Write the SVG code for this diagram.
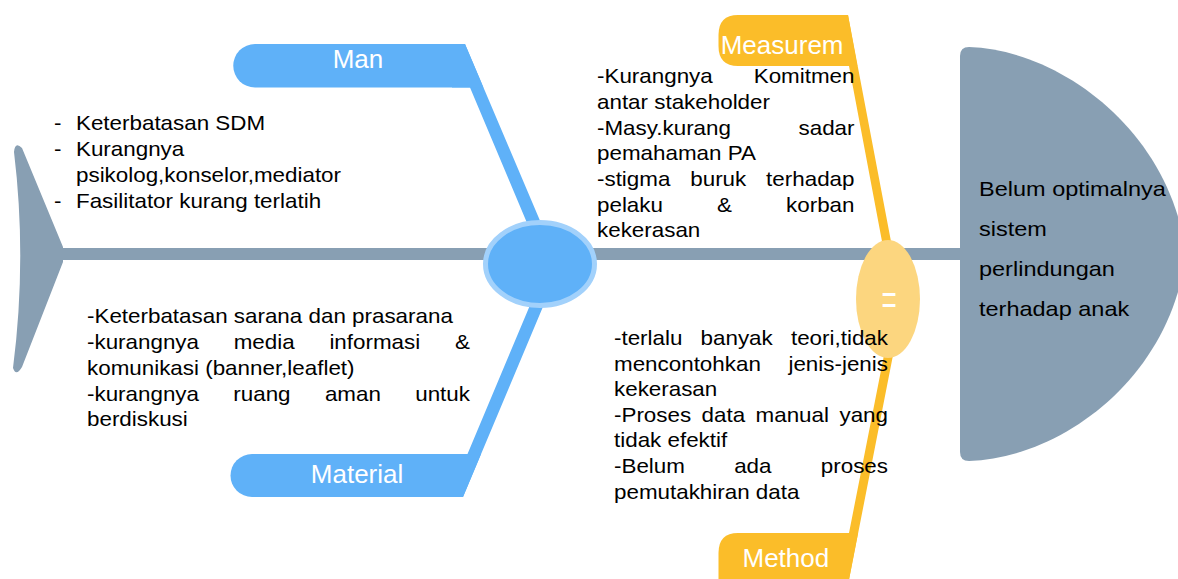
<svg xmlns="http://www.w3.org/2000/svg" width="1178" height="579" viewBox="0 0 1178 579">
<style>
.t{font-family:"Liberation Sans",Arial,sans-serif;font-size:20px;fill:#000}
.h{font-family:"Liberation Sans",Arial,sans-serif;font-size:21px;fill:#000}
.e{text-anchor:end}
.lbl{font-family:"Liberation Sans",Arial,sans-serif;font-size:26px;fill:#fff}
.gray{fill:#889FB3}
.blue{fill:#5FB1F8}
.orange{fill:#FBBD29}
</style>
<rect width="1178" height="579" fill="#fff"/>
<g id="connectors">
<rect class="gray" x="58" y="248" width="907" height="12"/>
<polygon class="blue" points="452,44 465,44 546.5,236 532.5,236 470,87.5 452,87.5"/>
<polygon class="blue" points="452,497 463,497 550,290 536.4,290 467.5,454 452,454"/>
<polygon class="orange" points="840,15 848,15 893,252 884,252 849,66 840,66"/>
<polygon class="orange" points="840,533 849,533 886,345 895,345 847,590 840,590"/>
</g>
<g id="tail">
<path class="gray" d="M14,152 Q15,141 22,148 L63,247 L63,262 L22,367 Q16,377 13,368 Q27,259 14,152 Z"/>
</g>
<g id="head">
<path class="gray" d="M960,56 Q960,47 969,47 C1060,50 1170,130 1186,254 C1170,380 1060,458 969,461 Q960,461 960,452 Z"/>
<g transform="scale(1.12,1)">
<text class="h" x="874.1" y="196">Belum optimalnya</text>
<text class="h" x="874.1" y="236">sistem</text>
<text class="h" x="874.1" y="276">perlindungan</text>
<text class="h" x="874.1" y="316">terhadap anak</text>
</g>
</g>
<g id="man">
<path class="blue" d="M255,44 H465 L483.4,87.5 H255 A21.75,21.75 0 0 1 255,44 Z"/>
<text class="lbl" x="332.7" y="68.3">Man</text>
</g>
<g id="material">
<path class="blue" d="M252,454 H481 L463,497 H252 A21.5,21.5 0 0 1 252,454 Z"/>
<text class="lbl" x="310.8" y="483">Material</text>
</g>
<g id="measurement">
<path class="orange" d="M738,15 H848 L857.3,66 H738 Q718.5,66 718.5,46 V35 Q718.5,15 738,15 Z"/>
<text class="lbl" x="720.7" y="53.5">Measurem</text>
</g>
<g id="method">
<path class="orange" d="M738,533 H858 L847,590 H718.5 V553 Q718.5,533 738,533 Z"/>
<text class="lbl" x="742.5" y="567">Method</text>
</g>
<g id="hub">
<ellipse cx="540" cy="264" rx="54.5" ry="41.5" fill="#5FB1F8" stroke="#A2D1FB" stroke-width="5"/>
</g>
<g id="joint">
<ellipse cx="888" cy="299" rx="32" ry="59" fill="#FCD67F"/>
<text class="lbl" x="889" y="196.3" text-anchor="middle" transform="scale(1,1.6)">=</text>
</g>
<g id="man-causes" transform="scale(1.12,1)">
<text class="t" x="48.2" y="130">-</text><text class="t" x="67.86" y="130">Keterbatasan SDM</text>
<text class="t" x="48.2" y="156">-</text><text class="t" x="67.86" y="156">Kurangnya</text>
<text class="t" x="67.86" y="182">psikolog,konselor,mediator</text>
<text class="t" x="48.2" y="208">-</text><text class="t" x="67.86" y="208">Fasilitator kurang terlatih</text>
</g>
<g id="measurement-causes" transform="scale(1.12,1)">
<text class="t" x="533.04" y="83.5">-Kurangnya</text><text class="t e" x="762.95" y="83.5">Komitmen</text>
<text class="t" x="533.04" y="109">antar stakeholder</text>
<text class="t" x="533.04" y="134.7">-Masy.kurang</text><text class="t e" x="762.95" y="134.7">sadar</text>
<text class="t" x="533.04" y="160.3">pemahaman PA</text>
<text class="t" x="533.04" y="186">-stigma</text><text class="t" x="616.3" y="186">buruk</text><text class="t e" x="762.95" y="186">terhadap</text>
<text class="t" x="533.04" y="211.7">pelaku</text><text class="t" x="640.2" y="211.7">&amp;</text><text class="t e" x="762.95" y="211.7">korban</text>
<text class="t" x="533.04" y="237.3">kekerasan</text>
</g>
<g id="material-causes" transform="scale(1.12,1)">
<text class="t" x="77.68" y="323.5">-Keterbatasan sarana dan prasarana</text>
<text class="t" x="77.68" y="349.2">-kurangnya</text><text class="t" x="208.66" y="349.2">media</text><text class="t" x="294.1" y="349.2">informasi</text><text class="t e" x="419.64" y="349.2">&amp;</text>
<text class="t" x="77.68" y="375">komunikasi (banner,leaflet)</text>
<text class="t" x="77.68" y="400.7">-kurangnya</text><text class="t" x="208.3" y="400.7">ruang</text><text class="t" x="290.1" y="400.7">aman</text><text class="t e" x="419.64" y="400.7">untuk</text>
<text class="t" x="77.68" y="426.4">berdiskusi</text>
</g>
<g id="method-causes" transform="scale(1.12,1)">
<text class="t" x="548.21" y="345">-terlalu</text><text class="t" x="625.5" y="345">banyak</text><text class="t e" x="792.86" y="345">teori,tidak</text>
<text class="t" x="548.21" y="371">mencontohkan</text><text class="t e" x="792.86" y="371">jenis-jenis</text>
<text class="t" x="548.21" y="396.5">kekerasan</text>
<text class="t" x="548.21" y="422">-Proses</text><text class="t" x="626.4" y="422">data</text><text class="t" x="674.6" y="422">manual</text><text class="t e" x="792.86" y="422">yang</text>
<text class="t" x="548.21" y="447.5">tidak efektif</text>
<text class="t" x="548.21" y="473.5">-Belum</text><text class="t" x="655.5" y="473.5">ada</text><text class="t e" x="792.86" y="473.5">proses</text>
<text class="t" x="548.21" y="499">pemutakhiran data</text>
</g>
</svg>
